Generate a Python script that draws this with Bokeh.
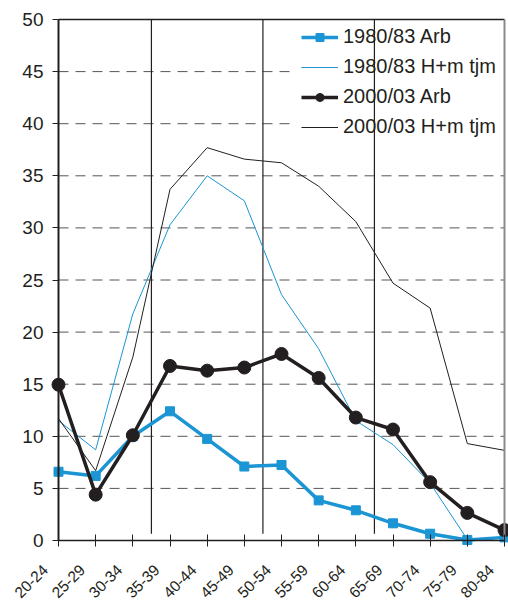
from math import pi
from bokeh.plotting import figure
from bokeh.models import Range1d, FixedTicker, Legend, LegendItem
from bokeh.core.properties import value
from bokeh.embed import file_html
from bokeh.resources import INLINE

# ---- data ----
categories = ["20-24", "25-29", "30-34", "35-39", "40-44", "45-49", "50-54",
              "55-59", "60-64", "65-69", "70-74", "75-79", "80-84"]
arb_1980 = [6.6, 6.2, 10.0, 12.4, 9.75, 7.1, 7.25, 3.85, 2.9, 1.65, 0.65, 0.05, 0.3]
hm_1980 = [11.5, 8.7, 21.75, 30.3, 35.0, 32.6, 23.6, 18.4, 11.5, 9.2, 5.5, 0.1, 0.3]
arb_2000 = [14.95, 4.4, 10.1, 16.75, 16.3, 16.6, 17.9, 15.6, 11.8, 10.65, 5.6, 2.65, 1.0]
hm_2000 = [11.7, 6.7, 17.6, 33.7, 37.7, 36.6, 36.25, 34.0, 30.6, 24.7, 22.3, 9.3, 8.65]
y_ticks = [0, 5, 10, 15, 20, 25, 30, 35, 40, 45, 50]
group_ends = ["30-34", "45-49", "60-64"]
series_labels = ["1980/83 Arb", "1980/83 H+m tjm", "2000/03 Arb", "2000/03 H+m tjm"]

BLUE = "#1b95d3"
BLACK = "#231f20"
FONT = "Liberation Sans"

W, H = 508, 602
X0_PX, XSTEP_PX = 58.0, 37.1667      # pixel of first category, pixel spacing
Y0_PX, YSTEP_PX = 540.0, 10.42       # pixel of value 0, pixels per unit

x = list(range(len(categories)))
x_last = x[-1]
y_top = y_ticks[-1]

p = figure(width=W, height=H, output_backend="svg", toolbar_location=None,
           x_range=Range1d(-X0_PX / XSTEP_PX, (W - X0_PX) / XSTEP_PX),
           y_range=Range1d(-(H - Y0_PX) / YSTEP_PX, Y0_PX / YSTEP_PX),
           min_border=0, min_border_left=0, min_border_right=0,
           min_border_top=0, min_border_bottom=0)
p.outline_line_color = None
p.background_fill_color = "white"
p.xgrid.visible = False
p.ygrid.visible = False

# dashed horizontal grid lines
gy = y_ticks[1:-1]
p.segment(x0=[x[0]] * len(gy), y0=gy, x1=[x_last] * len(gy), y1=gy,
          line_color="#555555", line_width=1, line_dash="10 7", level="underlay")

# white area behind the legend (hides the grid there)
leg_left_px, leg_bottom_px = 294.0, 142.0
p.quad(left=[(leg_left_px - X0_PX) / XSTEP_PX], right=[x_last],
       bottom=[(Y0_PX - leg_bottom_px) / YSTEP_PX], top=[y_top],
       fill_color="white", line_color=None, level="underlay")

# group separators
sep = [categories.index(c) + 0.5 for c in group_ends]
p.segment(x0=sep, y0=[0.65] * len(sep), x1=sep, y1=[y_top] * len(sep),
          line_color=BLACK, line_width=1.2)

# series
r_hm80 = p.line(x, hm_1980, line_color=BLUE, line_width=1)
r_hm00 = p.line(x, hm_2000, line_color=BLACK, line_width=1)
r_a80l = p.line(x, arb_1980, line_color=BLUE, line_width=3.5)
r_a80s = p.scatter(x, arb_1980, marker="square", size=9, fill_color=BLUE, line_color=BLUE)
r_a00l = p.line(x, arb_2000, line_color=BLACK, line_width=3.5)
r_a00s = p.scatter(x, arb_2000, marker="circle", size=13, fill_color=BLACK, line_color=BLACK)

# frame lines (top black, right grey)
p.segment(x0=[x[0]], y0=[y_top], x1=[x_last], y1=[y_top],
          line_color=BLACK, line_width=1.5)
p.segment(x0=[x_last], y0=[0], x1=[x_last], y1=[y_top],
          line_color="#8a8a8a", line_width=2)

# axes
p.yaxis.fixed_location = 0
p.yaxis.bounds = (0, y_top)
p.yaxis.ticker = FixedTicker(ticks=y_ticks)
p.yaxis.minor_tick_line_color = None
p.yaxis.major_tick_in = 0
p.yaxis.major_tick_out = 6
p.yaxis.axis_line_width = 2
p.yaxis.axis_line_color = BLACK
p.yaxis.major_tick_line_color = BLACK
p.yaxis.major_label_text_font = FONT
p.yaxis.major_label_text_font_size = "19px"
p.yaxis.major_label_text_color = BLACK
p.yaxis.major_label_standoff = 9

p.xaxis.fixed_location = 0
p.xaxis.bounds = (0, x_last)
p.xaxis.ticker = FixedTicker(ticks=x)
p.xaxis.major_label_overrides = {i: "" for i in x}
p.xaxis.minor_tick_line_color = None
p.xaxis.major_tick_in = 6
p.xaxis.major_tick_out = 6
p.xaxis.axis_line_width = 1.5
p.xaxis.axis_line_color = BLACK
p.xaxis.major_tick_line_color = BLACK

# rotated category labels under the axis
p.text(x=x, y=[0] * len(x), text=categories, angle=pi / 4,
       text_align="right", text_baseline="middle",
       x_offset=-13, y_offset=27,
       text_font=value(FONT), text_font_size="15.5px", text_color=BLACK)

legend = Legend(items=[
    LegendItem(label=series_labels[0], renderers=[r_a80l, r_a80s]),
    LegendItem(label=series_labels[1], renderers=[r_hm80]),
    LegendItem(label=series_labels[2], renderers=[r_a00l, r_a00s]),
    LegendItem(label=series_labels[3], renderers=[r_hm00]),
], location=(301, 464), orientation="vertical")
legend.label_text_font = FONT
legend.label_text_font_size = "20px"
legend.label_text_color = BLACK
legend.glyph_width = 37
legend.glyph_height = 20
legend.label_height = 20
legend.spacing = 7
legend.padding = 8
legend.margin = 0
legend.label_standoff = 5
legend.border_line_color = None
legend.background_fill_alpha = 0.0
p.add_layout(legend)

open("out.html", "w").write(file_html(p, INLINE))
